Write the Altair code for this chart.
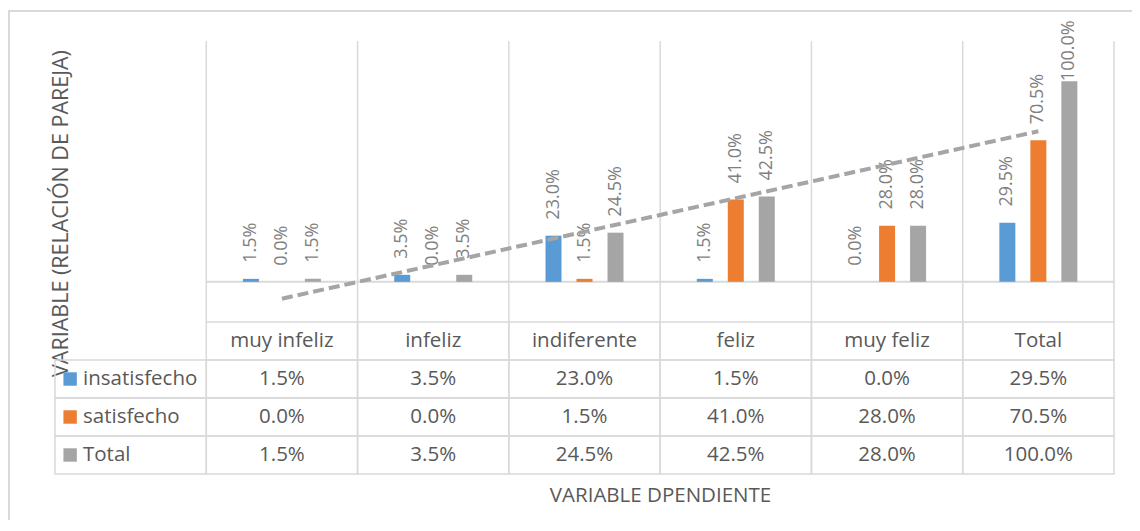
import altair as alt
import pandas as pd

# ---------------- data ----------------
categories = ["muy infeliz", "infeliz", "indiferente", "feliz", "muy feliz", "Total"]
series = ["insatisfecho", "satisfecho", "Total"]
insatisfecho = [0.015, 0.035, 0.230, 0.015, 0.000, 0.295]
satisfecho = [0.000, 0.000, 0.015, 0.410, 0.280, 0.705]
total = [0.015, 0.035, 0.245, 0.425, 0.280, 1.000]
colors = ["#5B9BD5", "#ED7D31", "#A5A5A5"]
y_title = "VARIABLE (RELACIÓN DE PAREJA)"
x_title = "VARIABLE DPENDIENTE"

LABEL_COL = "_serie"
HEADER_ROW = "_header"
cols_all = [LABEL_COL] + categories
rows_all = [HEADER_ROW] + series
values = {"insatisfecho": insatisfecho, "satisfecho": satisfecho, "Total": total}

long = pd.DataFrame([
    {"cat": c, "serie": s, "value": values[s][i], "idx": i + 1,
     "text": f"{values[s][i] * 100:.1f}%"}
    for s in series for i, c in enumerate(categories)
])

# table content
cells = pd.DataFrame(
    [{"col": c, "row": HEADER_ROW} for c in categories]
    + [{"col": c, "row": s} for s in series for c in cols_all]
)
table_center = pd.DataFrame(
    [{"col": c, "row": HEADER_ROW, "text": c} for c in categories]
    + [{"col": c, "row": s, "text": f"{values[s][i] * 100:.1f}%"}
       for s in series for i, c in enumerate(categories)]
)
table_names = pd.DataFrame([{"col": LABEL_COL, "row": s, "serie": s} for s in series])

# ---------------- layout ----------------
W, H, PLOT_H = 1059, 433, 281
GRID = "#D9D9D9"
TXT = "#595959"
FONT = "Open Sans"

xscale = alt.Scale(type="band", domain=cols_all, paddingInner=0, paddingOuter=0)
offscale = alt.Scale(type="band", domain=series, range=[36.65, 114.65], paddingInner=0.484, paddingOuter=0)
yscale = alt.Scale(domain=[-0.2, 1.2], range=[PLOT_H, 0], nice=False, zero=False)
rowscale = alt.Scale(type="band", domain=rows_all, range=[PLOT_H, H], paddingInner=0, paddingOuter=0)
colscale = alt.Scale(domain=series, range=colors)

frame = alt.Chart(pd.DataFrame({"a": [0]})).mark_rect(
    fill="transparent", stroke=GRID, strokeWidth=2
).encode(x=alt.value(-46), x2=alt.value(W + 120), y=alt.value(-30), y2=alt.value(H + 200))

vgrid = alt.Chart(pd.DataFrame({"cat": categories})).mark_rule(color=GRID, strokeWidth=1.5).encode(
    x=alt.X("cat:N", scale=xscale, bandPosition=0, axis=None),
    y=alt.value(0), y2=alt.value(PLOT_H),
)
vgrid_end = alt.Chart(pd.DataFrame({"cat": ["Total"]})).mark_rule(color=GRID, strokeWidth=1.5).encode(
    x=alt.X("cat:N", scale=xscale, bandPosition=1, axis=None),
    y=alt.value(0), y2=alt.value(PLOT_H),
)
zero_line = alt.Chart(pd.DataFrame({"cat": categories})).mark_rect(
    fill="transparent", stroke=GRID, strokeWidth=2
).encode(
    x=alt.X("cat:N", scale=xscale, axis=None),
    y=alt.Y(datum=0, scale=yscale, axis=None),
    y2=alt.datum(0),
)

bars = alt.Chart(long).mark_bar().encode(
    x=alt.X("cat:N", scale=xscale, axis=alt.Axis(
        title=x_title, labels=False, ticks=False, domain=False, grid=False,
        titleX=605, titleY=21, titleAlign="center", titleBaseline="middle",
        titleFont=FONT, titleFontSize=20.5, titleFontWeight="normal", titleColor=TXT)),
    xOffset=alt.XOffset("serie:N", scale=offscale),
    y=alt.Y("value:Q", scale=yscale, stack=None, axis=alt.Axis(
        title=y_title, labels=False, ticks=False, domain=False, grid=False,
        titleAngle=270, titleX=6, titleY=172, titleAlign="center", titleBaseline="middle",
        titleFont=FONT, titleFontSize=21.5, titleFontWeight="normal", titleColor=TXT)),
    y2=alt.datum(0),
    color=alt.Color("serie:N", scale=colscale, legend=None),
)

labels = alt.Chart(long).transform_calculate(
    lpos="min(datum.value + 0.08, 1.0)"
).mark_text(angle=270, align="left", baseline="middle", font=FONT, fontSize=18, color="#7F7F7F").encode(
    x=alt.X("cat:N", scale=xscale, axis=None),
    xOffset=alt.XOffset("serie:N", scale=offscale),
    y=alt.Y("lpos:Q", scale=yscale, axis=None),
    text="text:N",
)

trend = alt.Chart(long).transform_filter(alt.datum.serie == "Total").transform_regression(
    "idx", "value", extent=[1, 6]
).mark_line(color="#A5A5A5", strokeWidth=4, strokeDash=[11, 5]).encode(
    x=alt.X("idx:Q", scale=alt.Scale(domain=[-0.5, 6.5], nice=False, zero=False), axis=None),
    y=alt.Y("value:Q", scale=yscale, axis=None),
)

table_cells = alt.Chart(cells).mark_rect(fill="transparent", stroke=GRID, strokeWidth=1.5).encode(
    x=alt.X("col:N", scale=xscale, axis=None),
    y=alt.Y("row:N", scale=rowscale, axis=None),
)
table_text = alt.Chart(table_center).mark_text(
    align="center", baseline="middle", font=FONT, fontSize=20.5, color=TXT
).encode(
    x=alt.X("col:N", scale=xscale, bandPosition=0.5, axis=None),
    y=alt.Y("row:N", scale=rowscale, bandPosition=0.5, axis=None),
    text="text:N",
)
table_names_text = alt.Chart(table_names).mark_text(
    align="left", baseline="middle", font=FONT, fontSize=20.5, color=TXT
).encode(
    x=alt.X("col:N", scale=xscale, bandPosition=0.185, axis=None),
    y=alt.Y("row:N", scale=rowscale, bandPosition=0.5, axis=None),
    text="serie:N",
)
legend_sq = alt.Chart(table_names).mark_square(size=180, opacity=1).encode(
    x=alt.X("col:N", scale=xscale, bandPosition=0.1, axis=None),
    y=alt.Y("row:N", scale=rowscale, bandPosition=0.5, axis=None),
    color=alt.Color("serie:N", scale=colscale, legend=None),
)

chart = alt.layer(
    frame, vgrid, vgrid_end, table_cells, zero_line, bars, labels, trend,
    table_text, table_names_text, legend_sq,
).resolve_scale(x="independent", y="independent").properties(
    width=W, height=H,
    autosize=alt.AutoSizeParams(type="none"),
    padding={"left": 47, "top": 33, "right": 18, "bottom": 46},
    background="white",
).configure_view(strokeWidth=0)

chart.save("out.html", embed_options={"renderer": "svg", "actions": False})
